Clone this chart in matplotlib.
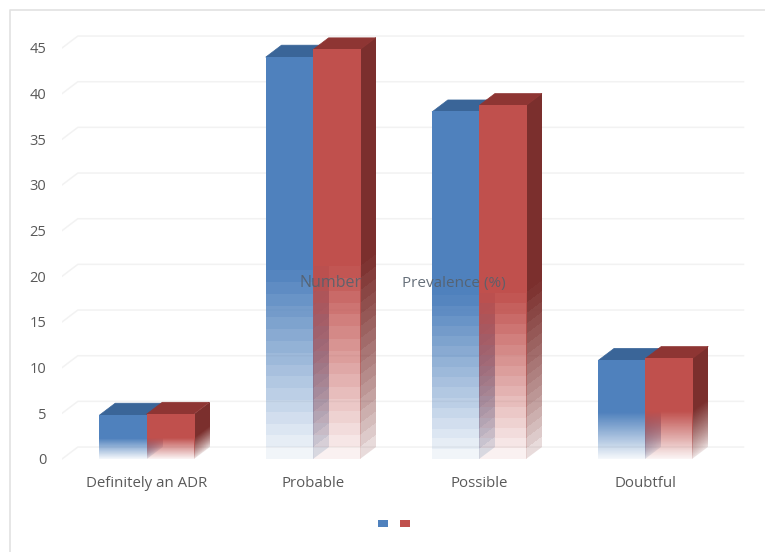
import matplotlib
matplotlib.use("Agg")
import matplotlib.pyplot as plt
import numpy as np
from matplotlib.colors import to_rgb
from matplotlib.lines import Line2D
from matplotlib.patches import Polygon, Rectangle
from matplotlib.transforms import Affine2D

categories = ["Definitely an ADR", "Probable", "Possible", "Doubtful"]
number_values = [4.8, 44.0, 38.0, 10.8]
prevalence_values = [4.9, 44.8, 38.7, 11.0]
y_ticks = [0, 5, 10, 15, 20, 25, 30, 35, 40, 45]
series_names = ["Number", "Prevalence (%)"]

W, H = 765, 552
GRID = "#f2f2f2"
TEXT = "#595959"
BAR_W = 0.283
DX, DY = 0.095, 1.31  # oblique depth of the 3D bars
BLUE = dict(front="#4f81bd", side="#2f5f96", top="#3a6598")
RED = dict(front="#c0504d", side="#7b2f2d", top="#8e3533")

plt.rcParams["font.family"] = ["Open Sans", "DejaVu Sans"]
fig = plt.figure(figsize=(W / 100, H / 100), dpi=100)

# Plot area: value 0 sits at y=459 px, value 45 at y=48 px; categories 166.3 px apart
left, right = 62, 750
top, bottom = 30, 470
ax = fig.add_axes([left / W, 1 - bottom / H, (right - left) / W, (bottom - top) / H])
px_x = 166.3
x0 = (146.5 - left) / px_x
ax.set_xlim(-x0, -x0 + (right - left) / px_x)
py = 411 / 45
ax.set_ylim(-(bottom - 459) / py, (459 - top) / py)
ax.autoscale(False)
ax.axis("off")

# Chart frame: only the top and left edges show
fig.add_artist(Line2D([10 / W, 10 / W, 1], [0, 1 - 9.5 / H, 1 - 9.5 / H], transform=fig.transFigure,
                      color="#e2e2e2", lw=1.2))

# Back wall gridlines with the short diagonal floor stubs
for t in y_ticks:
    ax.plot([-x0, -x0 + DX, 3.59], [t, t + DY, t + DY], color=GRID, lw=1.1, zorder=1)
    ax.text(-x0 - 0.095, t - 0.2, str(t), ha="right", va="center", fontsize=10.5, color=TEXT, clip_on=False)


def fade_image(color, power, bands):
    """Vertical RGBA strip: opaque on the upper 53 %, stepped fade towards the base."""
    rows = 640
    frac = (np.arange(rows) + 0.5) / rows
    band = np.minimum(np.floor(frac / 0.47 * bands), bands)
    alpha = np.where(band >= bands, 1.0, (0.05 + 0.95 * (band + 0.5) / bands) ** power)
    img = np.zeros((rows, 1, 4))
    img[:, 0, :3] = to_rgb(color)
    img[:, 0, 3] = alpha
    return img


def draw_bar(xl, value, colors, z):
    """One oblique bar: a sheared side face, a top face and a flat front face."""
    xr = xl + BAR_W
    # tall bars show visible steps in the fade, short ones read as a smooth ramp
    bands = 16 if value > 20 else 128
    side_tf = Affine2D.from_values(DX, DY, 0, value, xr, 0) + ax.transData
    ax.imshow(fade_image(colors["side"], 0.7, bands), extent=(0, 1, 0, 1), origin="lower", aspect="auto",
              interpolation="nearest", transform=side_tf, zorder=z)
    ax.add_patch(Polygon([(xl, value), (xl + DX, value + DY), (xr + DX, value + DY), (xr, value)],
                         fc=colors["top"], ec=colors["top"], lw=0.5, zorder=z))
    ax.imshow(fade_image(colors["front"], 1.0, bands), extent=(xl, xr, 0, value), origin="lower", aspect="auto",
              interpolation="nearest", zorder=z + 1)


for i, (a, b) in enumerate(zip(number_values, prevalence_values)):
    draw_bar(i - BAR_W, a, BLUE, 2)
    draw_bar(i, b, RED, 4)
    ax.text(i, -2.65, categories[i], ha="center", va="center", fontsize=10.8, color=TEXT, clip_on=False)

# Series names sit over the middle of the plot
ax.text(0.92, 19.3, series_names[0], ha="left", va="center", fontsize=11.5, color="#56606c", alpha=0.9, zorder=8)
ax.text(1.535, 19.2, series_names[1], ha="left", va="center", fontsize=11, color="#56606c", alpha=0.9, zorder=8)

# Legend swatches
for px, c in ((378, BLUE["front"]), (400, RED["front"])):
    fig.add_artist(Rectangle((px / W, 1 - 527 / H), 10 / W, 7 / H, transform=fig.transFigure,
                             fc=c, ec="none"))

fig.savefig("out.png", dpi=100, facecolor="white")
